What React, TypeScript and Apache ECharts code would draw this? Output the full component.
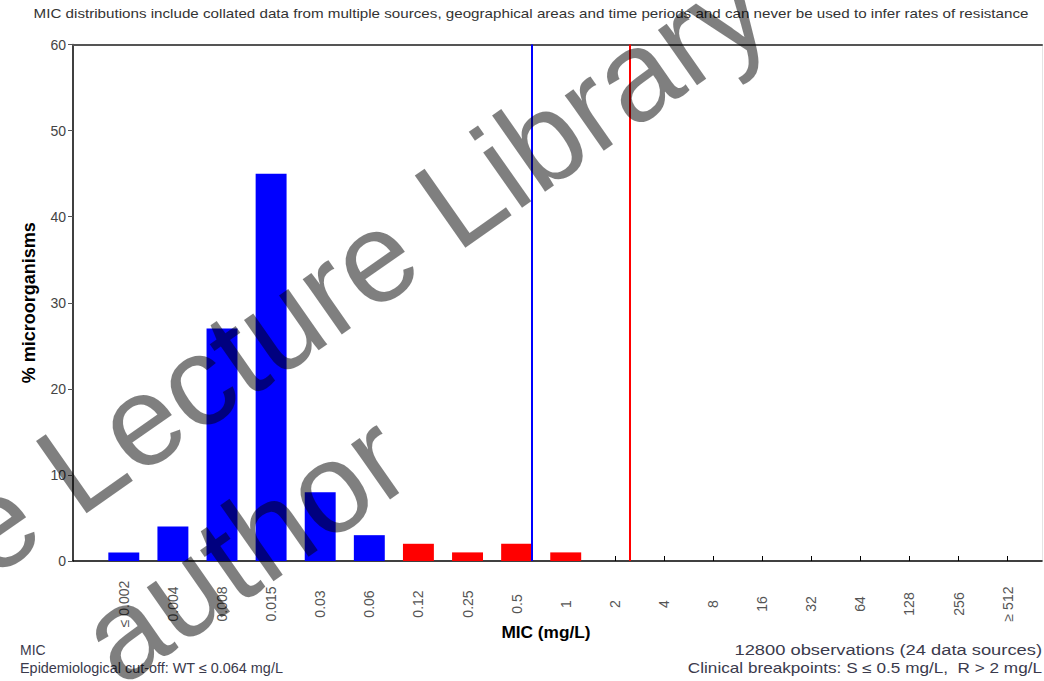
import { useEffect, useRef } from "react";
import * as echarts from "echarts";

// MIC classes (mg/L) on the x axis
const micLabels = [
  "≤ 0.002", "0.004", "0.008", "0.015", "0.03", "0.06", "0.12", "0.25", "0.5",
  "1", "2", "4", "8", "16", "32", "64", "128", "256", "≥ 512",
];
// % of microorganisms in each MIC class
const percentValues = [1, 4, 27, 45, 8, 3, 2, 1, 2, 1, 0, 0, 0, 0, 0, 0, 0, 0, 0];
// y axis range
const yMin = 0;
const yMax = 60;
const yStep = 10;
// class indices for the cut-off and breakpoints
const wildTypeLastIndex = 5; // WT ≤ 0.064 mg/L
const susceptibleIndex = 8; // S ≤ 0.5 mg/L
const resistantIndex = 10; // R > 2 mg/L

const titleText =
  "MIC distributions include collated data from multiple sources, geographical areas and time periods and can never be used to infer rates of resistance";
const footLeft = ["MIC", "Epidemiological cut-off: WT ≤ 0.064 mg/L"];
const footRight = ["12800 observations (24 data sources)", "Clinical breakpoints: S ≤ 0.5 mg/L,  R > 2 mg/L"];
const watermarkLines = ["e Lecture Library", "author"];

const BAR_RATIO = 0.63;
const FONT = "'Liberation Sans', Arial, sans-serif";
const FOOT_COLOR = "#3a3a4c";

export default function App() {
  const ref = useRef<HTMLDivElement>(null);

  useEffect(() => {
    if (!ref.current) return;
    const chart = echarts.init(ref.current, null, { renderer: "svg" });

    const rot = (35 * Math.PI) / 180;
    const footLeftScale = [1, 1.03];
    const footRightScale = [1.31, 1.226];

    chart.setOption({
      animation: false,
      backgroundColor: "#ffffff",
      textStyle: { fontFamily: FONT },
      grid: [
        { left: 73, right: 2, top: 44.5, bottom: 120 },
        { left: 99.25, right: 11.8, top: 44.5, bottom: 120 },
      ],
      xAxis: [
        {
          gridIndex: 0,
          type: "value",
          min: 0,
          max: 1,
          axisLine: { show: true, onZero: false, lineStyle: { color: "#000", width: 1.5 } },
          axisTick: { show: false },
          axisLabel: { show: false },
          splitLine: { show: false },
        },
        {
          gridIndex: 0,
          type: "value",
          position: "top",
          min: 0,
          max: 1,
          axisLine: { show: true, onZero: false, lineStyle: { color: "#555", width: 2 } },
          axisTick: { show: false },
          axisLabel: { show: false },
          splitLine: { show: false },
        },
        {
          gridIndex: 1,
          type: "category",
          data: micLabels,
          axisLine: { show: false, onZero: false },
          axisTick: { show: true, inside: true, length: 5, alignWithLabel: true, lineStyle: { color: "#000" } },
          axisLabel: {
            rotate: 90,
            align: "center",
            verticalAlign: "middle",
            margin: 43,
            color: "#555",
            fontSize: 14,
            fontFamily: FONT,
            interval: 0,
          },
          splitLine: { show: false },
        },
        {
          gridIndex: 1,
          type: "value",
          min: -0.5,
          max: micLabels.length - 0.5,
          show: false,
        },
      ],
      yAxis: [
        {
          gridIndex: 0,
          type: "value",
          min: yMin,
          max: yMax,
          interval: yStep,
          name: "% microorganisms",
          nameLocation: "middle",
          nameGap: 35,
          nameTextStyle: { fontSize: 18, fontWeight: "bold", color: "#000", fontFamily: FONT },
          axisLine: { show: true, onZero: false, lineStyle: { color: "#000", width: 1.5 } },
          axisTick: { show: true, length: 5, lineStyle: { color: "#555" } },
          axisLabel: { color: "#444", fontSize: 14, margin: 7, fontFamily: FONT },
          splitLine: { show: false },
        },
        {
          gridIndex: 0,
          type: "value",
          position: "right",
          min: yMin,
          max: yMax,
          axisLine: { show: true, onZero: false, lineStyle: { color: "#e4e4e4", width: 1 } },
          axisTick: { show: false },
          axisLabel: { show: false },
          splitLine: { show: false },
        },
        {
          gridIndex: 1,
          type: "value",
          min: yMin,
          max: yMax,
          show: false,
        },
      ],
      series: [
        {
          type: "bar",
          xAxisIndex: 2,
          yAxisIndex: 2,
          barCategoryGap: `${Math.round((1 - BAR_RATIO) * 100)}%`,
          data: percentValues.map((v, i) => ({
            value: v,
            itemStyle: { color: i <= wildTypeLastIndex ? "#0000ff" : "#ff0000" },
          })),
          z: 2,
        },
        {
          type: "line",
          xAxisIndex: 3,
          yAxisIndex: 2,
          data: [],
          silent: true,
          markLine: {
            symbol: "none",
            silent: true,
            label: { show: false },
            data: [
              { xAxis: susceptibleIndex + BAR_RATIO / 2, lineStyle: { color: "#0000ff", width: 2, type: "solid" } },
              { xAxis: resistantIndex + BAR_RATIO / 2, lineStyle: { color: "#ff0000", width: 2, type: "solid" } },
            ],
          },
          z: 3,
        },
      ],
      graphic: [
        {
          type: "text",
          x: 531,
          y: 14,
          scaleX: 1.265,
          style: { text: titleText, fill: "#333", font: `12px ${FONT}`, align: "center", verticalAlign: "middle" },
        },
        {
          type: "text",
          x: 546,
          y: 633,
          scaleX: 1.08,
          style: { text: "MIC (mg/L)", fill: "#000", font: `bold 16px ${FONT}`, align: "center", verticalAlign: "middle" },
        },
        ...footLeft.map((t, i) => ({
          type: "text",
          x: 20,
          y: 650 + i * 18,
          scaleX: footLeftScale[i],
          style: { text: t, fill: FOOT_COLOR, font: `14px ${FONT}`, align: "left", verticalAlign: "middle" },
        })),
        ...footRight.map((t, i) => ({
          type: "text",
          x: 1042,
          y: 650 + i * 18,
          scaleX: footRightScale[i],
          style: { text: t, fill: FOOT_COLOR, font: `14px ${FONT}`, align: "right", verticalAlign: "middle" },
        })),
        {
          type: "text",
          x: -35,
          y: 544,
          rotation: rot,
          z: 100,
          style: { text: watermarkLines[0], fill: "rgba(0,0,0,0.5)", font: `128px ${FONT}`, align: "left", verticalAlign: "middle" },
        },
        {
          type: "text",
          x: 95,
          y: 652,
          rotation: rot,
          z: 100,
          style: { text: watermarkLines[1], fill: "rgba(0,0,0,0.5)", font: `128px ${FONT}`, align: "left", verticalAlign: "middle" },
        },
      ],
    });

    return () => chart.dispose();
  }, []);

  return <div ref={ref} style={{ position: "fixed", left: 0, top: 0, width: 1044, height: 681 }} />;
}
